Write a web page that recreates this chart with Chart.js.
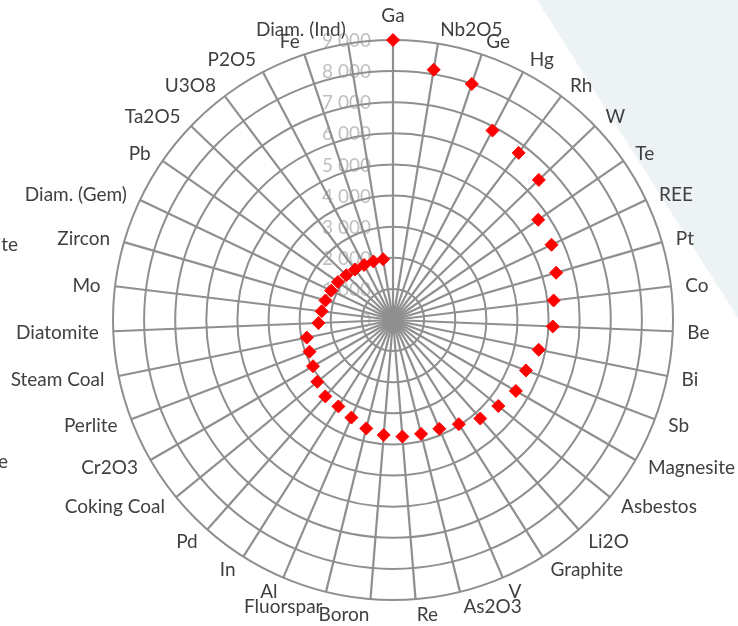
<!DOCTYPE html>
<html>
<head>
<meta charset="utf-8">
<script src="https://cdn.jsdelivr.net/npm/chart.js@4.4.1/dist/chart.umd.min.js"></script>
<style>
html,body{margin:0;padding:0;background:#ffffff;overflow:hidden}
#wrap{position:relative;width:738px;height:626px;overflow:hidden}
#bg{position:absolute;left:0;top:0;width:738px;height:626px;background:#edf2f5;clip-path:polygon(537px 0px,738px 0px,738px 318px)}
canvas{position:absolute;left:0;top:0}
.cut{position:absolute;font-family:Lato,sans-serif;font-size:19px;line-height:22px;color:#404040;white-space:nowrap}
</style>
</head>
<body>
<div id="wrap">
  <div id="bg"></div>
  <canvas id="c" width="738" height="626"></canvas>
  <span class="cut" style="right:720px;top:233px">ite</span>
  <span class="cut" style="right:730px;top:450px">e</span>
</div>
<script>
const categories = ['Ga','Nb2O5','Ge','Hg','Rh','W','Te','REE','Pt','Co','Be','Bi','Sb','Magnesite','Asbestos','Li2O','Graphite','V','As2O3','Re','Boron','Fluorspar','Al','In','Pd','Coking Coal','Cr2O3','Perlite','Steam Coal','Diatomite','Mo','Zircon','Diam. (Gem)','Pb','Ta2O5','U3O8','P2O5','Fe','Diam. (Ind)'];
const values = [9000,8150,8000,6880,6720,6500,5670,5640,5460,5200,5140,4780,4570,4560,4370,4230,3960,3800,3770,3760,3710,3590,3410,3285,3280,3140,2970,2870,2830,2400,2310,2260,2200,2150,2080,2030,2000,1985,1980];
const tickValues = [0,1000,2000,3000,4000,5000,6000,7000,8000,9000];
const tickLabels = ['0','1 000','2 000','3 000','4 000','5 000','6 000','7 000','8 000','9 000'];

const FONT = '19px Lato, sans-serif';

const excelLabels = {
  id: 'excelLabels',
  beforeDraw(chart) {
    const s = chart.scales.r;
    const ctx = chart.ctx;
    ctx.save();
    ctx.font = FONT;
    ctx.fillStyle = '#bfbfbf';
    ctx.textAlign = 'right';
    ctx.textBaseline = 'middle';
    tickValues.forEach((v, i) => {
      const d = s.getDistanceFromCenterForValue(v);
      ctx.fillText(tickLabels[i], s.xCenter - 22, s.yCenter - d + 1);
    });
    ctx.restore();
  },
  afterDraw(chart) {
    const s = chart.scales.r;
    const ctx = chart.ctx;
    const labels = chart.data.labels;
    ctx.save();
    ctx.font = FONT;
    ctx.fillStyle = '#404040';
    ctx.textBaseline = 'middle';
    labels.forEach((lab, i) => {
      const p = s.getPointPosition(i, s.drawingArea + 14.5);
      const dx = p.x - s.xCenter;
      let y = p.y + 1;
      if (Math.abs(dx) < 1) {
        ctx.textAlign = 'center';
        y = p.y - 10;
      } else {
        ctx.textAlign = dx > 0 ? 'left' : 'right';
      }
      ctx.fillText(lab, p.x, y);
    });
    ctx.restore();
  }
};

new Chart(document.getElementById('c'), {
  type: 'radar',
  data: {
    labels: categories,
    datasets: [{
      data: values,
      showLine: false,
      borderWidth: 0,
      borderColor: 'rgba(0,0,0,0)',
      backgroundColor: 'rgba(0,0,0,0)',
      fill: false,
      clip: false,
      pointStyle: 'rectRot',
      pointRadius: 6.5,
      pointHoverRadius: 6.5,
      pointBackgroundColor: '#ff0000',
      pointBorderColor: '#ff0000',
      pointBorderWidth: 1
    }]
  },
  options: {
    responsive: false,
    devicePixelRatio: 1,
    animation: false,
    events: [],
    layout: { padding: { left: 113, right: 65, top: 40, bottom: 26 } },
    plugins: { legend: { display: false }, title: { display: false }, tooltip: { enabled: false } },
    scales: {
      r: {
        min: 0,
        max: 9000,
        startAngle: 0,
        ticks: { stepSize: 1000, display: false },
        grid: { circular: true, color: '#8f8f8f', lineWidth: 2 },
        angleLines: { color: '#8f8f8f', lineWidth: 2.2 },
        pointLabels: { display: false }
      }
    }
  },
  plugins: [excelLabels]
});
</script>
</body>
</html>
